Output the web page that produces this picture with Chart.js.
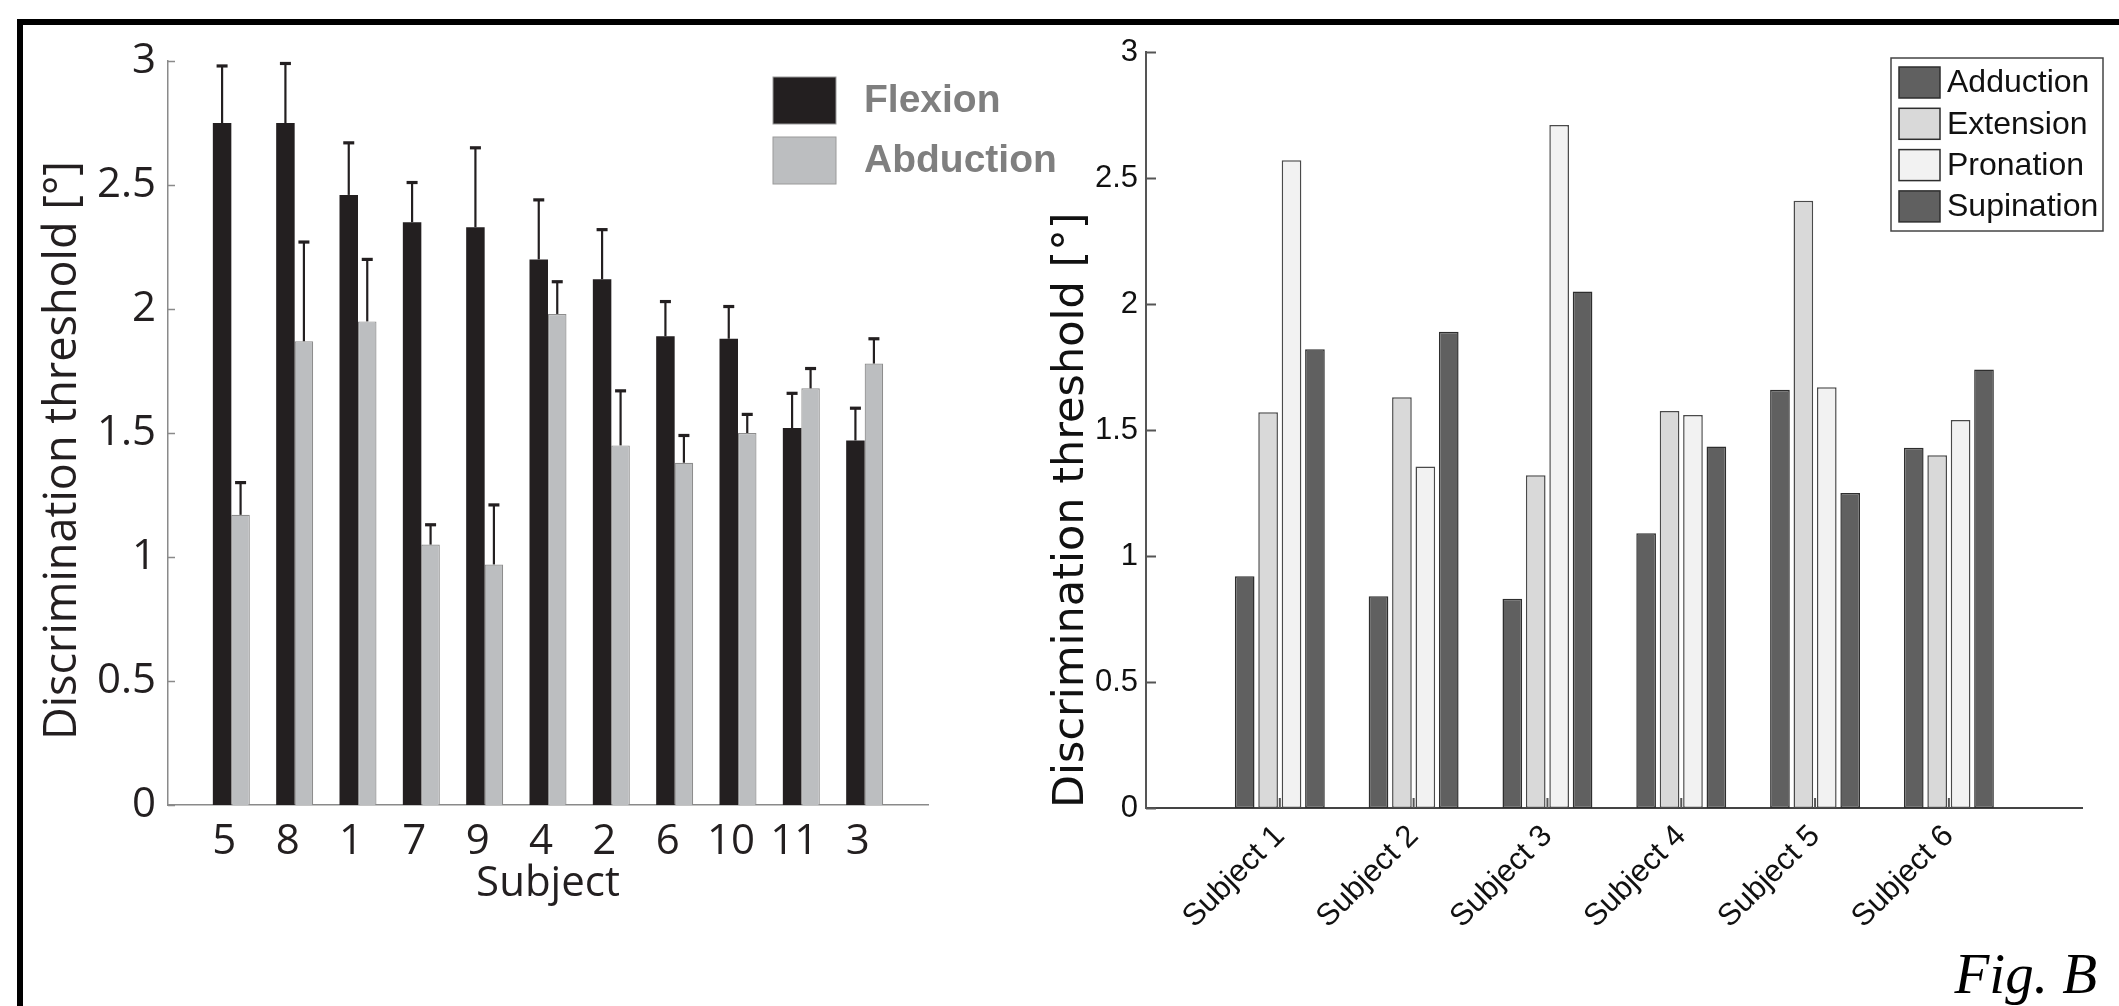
<!DOCTYPE html>
<html>
<head>
<meta charset="utf-8">
<script src="https://cdn.jsdelivr.net/npm/chart.js@4.4.1/dist/chart.umd.min.js"></script>
<style>
html,body{margin:0;padding:0;background:#fff;}
body{width:2119px;height:1006px;position:relative;overflow:hidden;}
#frame{position:absolute;left:17px;top:19px;right:-20px;bottom:-20px;border-top:6px solid #000;border-left:6px solid #000;}
#leftBox{position:absolute;left:0;top:0;width:1080px;height:1006px;}
#rightBox{position:absolute;left:1000px;top:0;width:1119px;height:1006px;}
#figLabel{position:absolute;right:22px;top:945px;font:italic 57px "Liberation Serif","Times New Roman",serif;line-height:57px;color:#000;}
</style>
</head>
<body>
<div id="frame"></div>
<div id="leftBox"><canvas id="leftChart"></canvas></div>
<div id="rightBox"><canvas id="rightChart"></canvas></div>
<div id="figLabel">Fig. B</div>
<script>
// left panel: flexion / abduction per subject (sorted), upper error bars
const leftSubjects = ['5','8','1','7','9','4','2','6','10','11','3'];
const flexion      = [2.75,2.75,2.46,2.35,2.33,2.20,2.12,1.89,1.88,1.52,1.47];
const flexionErr   = [0.23,0.24,0.21,0.16,0.32,0.24,0.20,0.14,0.13,0.14,0.13];
const abduction    = [1.17,1.87,1.95,1.05,0.97,1.98,1.45,1.38,1.50,1.68,1.78];
const abductionErr = [0.13,0.40,0.25,0.08,0.24,0.13,0.22,0.11,0.075,0.08,0.10];
const yTicks = [0,0.5,1,1.5,2,2.5,3];

// right panel: four movements per subject
const rightSubjects = ['Subject 1','Subject 2','Subject 3','Subject 4','Subject 5','Subject 6'];
const adduction  = [0.92,0.84,0.83,1.09,1.66,1.43];
const extension  = [1.57,1.63,1.32,1.575,2.41,1.40];
const pronation  = [2.57,1.355,2.71,1.56,1.67,1.54];
const supination = [1.82,1.89,2.05,1.435,1.25,1.74];

// MATLAB-style xlim [0, n+1]: pad the category list with empty slots
const pad = a => [null, ...a, null];
const padLabels = a => ['', ...a, ''];

const inwardTicks = {
  id:'inwardTicks',
  afterDatasetsDraw(chart, args, o){
    const {ctx, chartArea:a, scales:{x,y}} = chart;
    ctx.save();
    ctx.strokeStyle = o.color; ctx.lineWidth = o.width;
    y.ticks.forEach(t=>{
      const py = Math.round(y.getPixelForValue(t.value))+0.5;
      ctx.beginPath(); ctx.moveTo(a.left, py); ctx.lineTo(a.left+o.len, py); ctx.stroke();
    });
    if(o.xTicks){
      x.ticks.forEach((t,i)=>{
        if(!x.getLabelForValue(t.value)) return;
        const px = x.getPixelForTick(i);
        ctx.beginPath(); ctx.moveTo(px, a.bottom); ctx.lineTo(px, a.bottom-o.len); ctx.stroke();
      });
    }
    ctx.restore();
  }
};

const errorBars = {
  id:'errorBars',
  afterDatasetsDraw(chart, args, o){
    const {ctx, scales:{y}} = chart;
    ctx.save();
    ctx.strokeStyle = o.color;
    chart.data.datasets.forEach((ds,i)=>{
      if(!ds.err) return;
      chart.getDatasetMeta(i).data.forEach((bar,j)=>{
        const v = ds.data[j], e = ds.err[j];
        if(v==null || e==null) return;
        const x = bar.x, y0 = y.getPixelForValue(v), y1 = y.getPixelForValue(v+e);
        ctx.lineWidth = o.width;
        ctx.beginPath(); ctx.moveTo(x, y0); ctx.lineTo(x, y1); ctx.stroke();
        ctx.lineWidth = o.capWidth;
        ctx.beginPath(); ctx.moveTo(x-o.cap/2, y1); ctx.lineTo(x+o.cap/2, y1); ctx.stroke();
      });
    });
    ctx.restore();
  }
};

const boxLegend = {
  id:'boxLegend',
  afterDraw(chart, args, o){
    const ctx = chart.ctx;
    ctx.save();
    if(o.frame){
      ctx.fillStyle = '#fff'; ctx.strokeStyle = o.frame.color; ctx.lineWidth = o.frame.width;
      ctx.fillRect(o.frame.x, o.frame.y, o.frame.w, o.frame.h);
      ctx.strokeRect(o.frame.x, o.frame.y, o.frame.w, o.frame.h);
    }
    ctx.font = o.font; ctx.textBaseline = 'middle'; ctx.textAlign = 'left';
    chart.data.datasets.forEach((ds,i)=>{
      const sy = o.y + i*o.pitch;
      ctx.fillStyle = ds.backgroundColor;
      ctx.fillRect(o.x, sy, o.w, o.h);
      if(o.swatchBorder){
        ctx.strokeStyle = o.swatchBorder; ctx.lineWidth = o.swatchBorderWidth;
        ctx.strokeRect(o.x, sy, o.w, o.h);
      }
      ctx.fillStyle = o.color;
      ctx.fillText(ds.label, o.textX, sy + o.h/2 + (o.textDy||0));
    });
    ctx.restore();
  }
};

function yAxis(width, tickFont, tickColor, pad, title, borderColor, borderWidth){
  return {
    min:0, max:3,
    afterBuildTicks: s => { s.ticks = yTicks.map(v=>({value:v})); },
    afterFit: s => { s.width = width; },
    grid:{display:false, drawTicks:false},
    border:{display:true, color:borderColor, width:borderWidth},
    ticks:{font:tickFont, color:tickColor, padding:pad, callback:v=>String(v)},
    title:title
  };
}

new Chart(document.getElementById('leftChart'), {
  type:'bar',
  data:{
    labels:padLabels(leftSubjects),
    datasets:[
      {label:'Flexion', data:pad(flexion), err:pad(flexionErr), backgroundColor:'#231f20', borderWidth:0},
      {label:'Abduction', data:pad(abduction), err:pad(abductionErr), backgroundColor:'#bcbec0', borderColor:'#8d8d8d', borderWidth:1.2}
    ]
  },
  options:{
    responsive:true, maintainAspectRatio:false, animation:false, events:[],
    layout:{padding:{left:0, top:61, right:152, bottom:97}},
    datasets:{bar:{categoryPercentage:0.584, barPercentage:1}},
    plugins:{
      legend:{display:false}, tooltip:{enabled:false},
      inwardTicks:{color:'#8a8a8a', width:1.5, len:7},
      errorBars:{color:'#231f20', width:2.2, capWidth:3.2, cap:11},
      boxLegend:{x:773, y:77, w:63, h:47, pitch:60, textX:864, textDy:1,
        font:'bold 39px "Liberation Sans", Arial, sans-serif', color:'#7f7f7f',
        swatchBorder:'#9a9a9a', swatchBorderWidth:1}
    },
    scales:{
      x:{
        offset:false,
        afterFit: s => { s.height = 104; },
        grid:{display:false, drawTicks:false},
        border:{display:true, color:'#8a8a8a', width:1.5},
        ticks:{font:{family:'"Open Sans", sans-serif', size:42}, color:'#231f20', padding:12,
          labelOffset:-7, autoSkip:false, minRotation:0, maxRotation:0},
        title:{display:true, text:'Subject', color:'#231f20',
          font:{family:'"Open Sans", sans-serif', size:42}, padding:{top:0, bottom:0}}
      },
      y:yAxis(168, {family:'"Open Sans", sans-serif', size:42}, '#231f20', 12,
        {display:true, text:'Discrimination threshold [°]   ', color:'#231f20',
         font:{family:'"Open Sans", sans-serif', size:45}, padding:{top:36, bottom:0}},
        '#8a8a8a', 1.5)
    }
  },
  plugins:[inwardTicks, errorBars, boxLegend]
});

new Chart(document.getElementById('rightChart'), {
  type:'bar',
  data:{
    labels:padLabels(rightSubjects),
    datasets:[
      {label:'Adduction', data:pad(adduction), backgroundColor:'#606060', borderColor:'#2e2e2e', borderWidth:1.5},
      {label:'Extension', data:pad(extension), backgroundColor:'#d9d9d9', borderColor:'#4a4a4a', borderWidth:1.5},
      {label:'Pronation', data:pad(pronation), backgroundColor:'#f2f2f2', borderColor:'#4a4a4a', borderWidth:1.5},
      {label:'Supination', data:pad(supination), backgroundColor:'#606060', borderColor:'#2e2e2e', borderWidth:1.5}
    ]
  },
  options:{
    responsive:true, maintainAspectRatio:false, animation:false, events:[],
    layout:{padding:{left:0, top:52, right:10, bottom:0}},
    datasets:{bar:{categoryPercentage:0.70, barPercentage:0.84, borderSkipped:false}},
    plugins:{
      legend:{display:false}, tooltip:{enabled:false},
      inwardTicks:{color:'#555', width:2, len:10, xTicks:true},
      boxLegend:{x:899, y:67, w:41, h:31, pitch:41.3, textX:947, textDy:1,
        font:'32px "Liberation Sans", Arial, sans-serif', color:'#111',
        swatchBorder:'#2e2e2e', swatchBorderWidth:1.5,
        frame:{x:891, y:58, w:212, h:173, color:'#444', width:1.5}}
    },
    scales:{
      x:{
        offset:false,
        afterFit: s => { s.height = 198; },
        grid:{display:false, drawTicks:false},
        border:{display:true, color:'#444', width:2},
        ticks:{font:{family:'"Liberation Sans", Arial, sans-serif', size:31}, color:'#111', padding:10,
          autoSkip:false, minRotation:45, maxRotation:45}
      },
      y:yAxis(146, {family:'"Liberation Sans", Arial, sans-serif', size:31}, '#111', 8,
        {display:true, text:'Discrimination threshold [°]', color:'#111', align:'start',
         font:{family:'"DejaVu Sans", sans-serif', size:43}, padding:{top:46, bottom:0}},
        '#555', 2)
    }
  },
  plugins:[inwardTicks, boxLegend]
});
</script>
</body>
</html>
